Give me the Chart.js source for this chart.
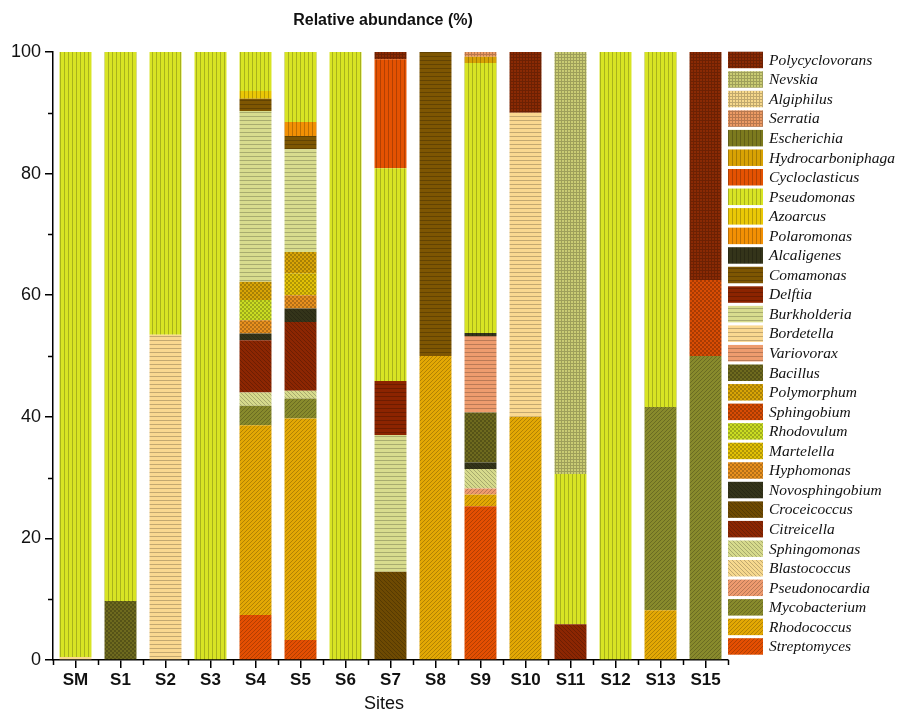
<!DOCTYPE html>
<html>
<head>
<meta charset="utf-8">
<script src="https://cdn.jsdelivr.net/npm/chart.js@4.4.1/dist/chart.umd.min.js"></script>
<style>
  html, body { margin: 0; padding: 0; background: #ffffff; }
  canvas { display: block; }
</style>
</head>
<body>
<canvas id="chart" width="898" height="714"></canvas>
<script>
// Sampling sites along the x axis
const sites = ['SM', 'S1', 'S2', 'S3', 'S4', 'S5', 'S6', 'S7', 'S8', 'S9', 'S10', 'S11', 'S12', 'S13', 'S15'];
const yTickValues = [0, 20, 40, 60, 80, 100];

// Relative abundance (%) of each genus at each site (same order as `sites`)
const streptomyces      = [0, 0, 0, 0, 7.4, 3.3, 0, 0, 0, 25.3, 0, 0, 0, 0, 0];
const rhodococcus       = [0, 0, 0, 0, 31.2, 36.4, 0, 0, 50, 1.9, 40, 0, 0, 8.2, 0];
const mycobacterium     = [0, 0, 0, 0, 3.2, 3.3, 0, 0, 0, 0, 0, 0, 0, 33.4, 50];
const pseudonocardia    = [0, 0, 0, 0, 0, 0, 0, 0, 0, 1.0, 0, 0, 0, 0, 0];
const blastococcus      = [0, 0, 0, 0, 0, 0, 0, 0, 0, 0, 0, 0, 0, 0, 0];
const sphingomonas      = [0, 0, 0, 0, 2.2, 1.3, 0, 0, 0, 3.2, 0, 0, 0, 0, 0];
const citreicella       = [0, 0, 0, 0, 8.6, 11.3, 0, 0, 0, 0, 0, 5.9, 0, 0, 0];
const croceicoccus      = [0, 0, 0, 0, 0, 0, 0, 14.5, 0, 0, 0, 0, 0, 0, 0];
const novosphingobium   = [0, 0, 0, 0, 1.1, 2.2, 0, 0, 0, 1.1, 0, 0, 0, 0, 0];
const hyphomonas        = [0, 0, 0, 0, 2.2, 2.2, 0, 0, 0, 0, 0, 0, 0, 0, 0];
const martelella        = [0, 0, 0, 0, 0, 3.6, 0, 0, 0, 0, 0, 0, 0, 0, 0];
const rhodovulum        = [0, 0, 0, 0, 3.3, 0, 0, 0, 0, 0, 0, 0, 0, 0, 0];
const sphingobium       = [0, 0, 0, 0, 0, 0, 0, 0, 0, 0, 0, 0, 0, 0, 12.5];
const polymorphum       = [0, 0, 0, 0, 3.0, 3.5, 0, 0, 0, 0, 0, 0, 0, 0, 0];
const bacillus          = [0, 9.7, 0, 0, 0, 0, 0, 0, 0, 8.2, 0, 0, 0, 0, 0];
const variovorax        = [0, 0, 0, 0, 0, 0, 0, 0, 0, 12.6, 0, 0, 0, 0, 0];
const bordetella        = [0.5, 0, 53.5, 0, 0, 0, 0, 0, 0, 0, 50, 0, 0, 0, 0];
const burkholderia      = [0, 0, 0, 0, 28.1, 16.9, 0, 22.5, 0, 0, 0, 0, 0, 0, 0];
const delftia           = [0, 0, 0, 0, 0, 0, 0, 8.9, 0, 0, 0, 0, 0, 0, 0];
const comamonas         = [0, 0, 0, 0, 2.0, 2.2, 0, 0, 50, 0, 0, 0, 0, 0, 0];
const alcaligenes       = [0, 0, 0, 0, 0, 0, 0, 0, 0, 0.5, 0, 0, 0, 0, 0];
const polaromonas       = [0, 0, 0, 0, 0, 2.3, 0, 0, 0, 0, 0, 0, 0, 0, 0];
const azoarcus          = [0, 0, 0, 0, 1.3, 0, 0, 0, 0, 0, 0, 0, 0, 0, 0];
const pseudomonas       = [99.5, 90.3, 46.5, 100, 6.4, 11.5, 100, 35.0, 0, 44.4, 0, 24.7, 100, 58.4, 0];
const cycloclasticus    = [0, 0, 0, 0, 0, 0, 0, 17.9, 0, 0, 0, 0, 0, 0, 0];
const hydrocarboniphaga = [0, 0, 0, 0, 0, 0, 0, 0, 0, 1.0, 0, 0, 0, 0, 0];
const escherichia       = [0, 0, 0, 0, 0, 0, 0, 0, 0, 0, 0, 0, 0, 0, 0];
const serratia          = [0, 0, 0, 0, 0, 0, 0, 0, 0, 0.8, 0, 0, 0, 0, 0];
const algiphilus        = [0, 0, 0, 0, 0, 0, 0, 0, 0, 0, 0, 0, 0, 0, 0];
const nevskia           = [0, 0, 0, 0, 0, 0, 0, 0, 0, 0, 0, 69.4, 0, 0, 0];
const polycyclovorans   = [0, 0, 0, 0, 0, 0, 0, 1.2, 0, 0, 10, 0, 0, 0, 37.5];

// Stacking order, bottom to top
const genusNames = ['Streptomyces', 'Rhodococcus', 'Mycobacterium', 'Pseudonocardia', 'Blastococcus',
  'Sphingomonas', 'Citreicella', 'Croceicoccus', 'Novosphingobium', 'Hyphomonas', 'Martelella',
  'Rhodovulum', 'Sphingobium', 'Polymorphum', 'Bacillus', 'Variovorax', 'Bordetella', 'Burkholderia',
  'Delftia', 'Comamonas', 'Alcaligenes', 'Polaromonas', 'Azoarcus', 'Pseudomonas', 'Cycloclasticus',
  'Hydrocarboniphaga', 'Escherichia', 'Serratia', 'Algiphilus', 'Nevskia', 'Polycyclovorans'];
const genusValues = [streptomyces, rhodococcus, mycobacterium, pseudonocardia, blastococcus,
  sphingomonas, citreicella, croceicoccus, novosphingobium, hyphomonas, martelella,
  rhodovulum, sphingobium, polymorphum, bacillus, variovorax, bordetella, burkholderia,
  delftia, comamonas, alcaligenes, polaromonas, azoarcus, pseudomonas, cycloclasticus,
  hydrocarboniphaga, escherichia, serratia, algiphilus, nevskia, polycyclovorans];

// Fill style per genus: [hatch type, base colour]
const genusStyle = {
  Streptomyces:      ['diagR', '#e44f02'],
  Rhodococcus:       ['diagR', '#e3a804'],
  Mycobacterium:     ['diagR', '#888a2c'],
  Pseudonocardia:    ['diagR', '#ee9a6e'],
  Blastococcus:      ['diagL', '#f6d88e'],
  Sphingomonas:      ['diagL', '#d6da8c'],
  Citreicella:       ['diagL', '#8c2602'],
  Croceicoccus:      ['diagL', '#6e4a02'],
  Novosphingobium:   ['diagL', '#34341a'],
  Hyphomonas:        ['check', '#e8901e'],
  Martelella:        ['check', '#e2c006'],
  Rhodovulum:        ['check', '#cadc22'],
  Sphingobium:       ['check', '#d84c04'],
  Polymorphum:       ['check', '#d8a406'],
  Bacillus:          ['check', '#6e6a1e'],
  Variovorax:        ['horiz', '#ee9c6e'],
  Bordetella:        ['horiz', '#fad890'],
  Burkholderia:      ['horiz', '#d8dc8e'],
  Delftia:           ['horiz', '#8c2400'],
  Comamonas:         ['horiz', '#7e5602'],
  Alcaligenes:       ['vert',  '#34341a'],
  Polaromonas:       ['vert',  '#f29004'],
  Azoarcus:          ['vert',  '#eac806'],
  Pseudomonas:       ['vert',  '#d8e424'],
  Cycloclasticus:    ['vert',  '#e45202'],
  Hydrocarboniphaga: ['vert',  '#d8a204'],
  Escherichia:       ['vert',  '#7c7a1e'],
  Serratia:          ['grid',  '#ec9a64'],
  Algiphilus:        ['grid',  '#f6d88c'],
  Nevskia:           ['grid',  '#cacc74'],
  Polycyclovorans:   ['grid',  '#8a2a04']
};

function shade(hex, f) {
  const n = parseInt(hex.slice(1), 16);
  const r = Math.round(((n >> 16) & 255) * f);
  const g = Math.round(((n >> 8) & 255) * f);
  const b = Math.round((n & 255) * f);
  return `rgb(${r},${g},${b})`;
}

// Build a repeating hatch fill for a bar segment
function makeHatch(type, base) {
  const size = type === 'grid' ? 3 : 4;
  const tile = document.createElement('canvas');
  tile.width = size; tile.height = size;
  const t = tile.getContext('2d');
  t.fillStyle = base;
  t.fillRect(0, 0, size, size);
  t.fillStyle = shade(base, 0.78);
  for (let x = 0; x < size; x++) {
    for (let y = 0; y < size; y++) {
      let on = false;
      if (type === 'vert') on = x === 0;
      else if (type === 'horiz') on = y === 0;
      else if (type === 'grid') on = x === 0 || y === 0;
      else if (type === 'check') on = ((x >> 1) + (y >> 1)) % 2 === 0;
      else if (type === 'diagR') on = (x + y) % size === 0;
      else if (type === 'diagL') on = (x - y + size) % size === 0;
      if (on) t.fillRect(x, y, 1, 1);
    }
  }
  const ctx = document.getElementById('chart').getContext('2d');
  return ctx.createPattern(tile, 'repeat');
}

const datasets = genusNames.map((name, i) => {
  const [type, base] = genusStyle[name];
  return {
    label: name,
    data: genusValues[i],
    backgroundColor: makeHatch(type, base),
    borderWidth: 0,
    categoryPercentage: 1.0,
    barPercentage: 0.71
  };
});

const SANS = "'Liberation Sans', Arial, sans-serif";
const SERIF = "'Liberation Serif', 'Times New Roman', serif";

// Titles, minor ticks and the genus key
const decorations = {
  id: 'decorations',
  afterDraw(chart) {
    const { ctx, chartArea, scales } = chart;
    const xs = scales.x, ys = scales.y;
    ctx.save();

    // minor ticks
    ctx.strokeStyle = '#000';
    ctx.lineWidth = 1.5;
    ctx.beginPath();
    for (let v = 10; v < 100; v += 20) {
      const y = Math.round(ys.getPixelForValue(v)) + 0.5;
      ctx.moveTo(chartArea.left - 5, y);
      ctx.lineTo(chartArea.left, y);
    }
    const step = xs.getPixelForValue(1) - xs.getPixelForValue(0);
    for (let i = 0; i <= sites.length; i++) {
      const x = Math.round(xs.getPixelForValue(0) + (i - 0.5) * step) + 0.5;
      ctx.moveTo(x, chartArea.bottom);
      ctx.lineTo(x, chartArea.bottom + 5);
    }
    ctx.stroke();

    // chart title
    ctx.fillStyle = '#111';
    ctx.textAlign = 'center';
    ctx.textBaseline = 'middle';
    ctx.font = `bold 16px ${SANS}`;
    ctx.fillText('Relative abundance (%)', 383, 21);

    // x axis title
    ctx.font = `18px ${SANS}`;
    ctx.fillText('Sites', 384, 704);

    // genus key, top entry is the last stacked genus
    ctx.textAlign = 'left';
    ctx.font = `italic 15.5px ${SERIF}`;
    const items = chart.data.datasets.slice().reverse();
    items.forEach((ds, i) => {
      const top = 51.7 + i * 19.55;
      ctx.fillStyle = ds.backgroundColor;
      ctx.fillRect(728, top, 35, 16.5);
      ctx.fillStyle = '#111';
      ctx.fillText(ds.label, 769, top + 9);
    });
    ctx.restore();
  }
};

new Chart(document.getElementById('chart'), {
  type: 'bar',
  data: { labels: sites, datasets },
  options: {
    responsive: false,
    animation: false,
    devicePixelRatio: 1,
    layout: { padding: { top: 52, right: 170, left: 0, bottom: 0 } },
    plugins: { legend: { display: false }, tooltip: { enabled: false }, title: { display: false } },
    scales: {
      x: {
        stacked: true,
        offset: true,
        grid: { display: true, offset: false, drawOnChartArea: false, drawTicks: true, tickLength: 8, color: '#000', lineWidth: 1.5 },
        border: { display: true, color: '#000', width: 1.5 },
        ticks: { font: { family: SANS, size: 17, weight: 'bold' }, color: '#111', padding: 2, maxRotation: 0, autoSkip: false },
        afterFit(scale) { scale.height = 54; }
      },
      y: {
        stacked: true,
        min: 0,
        max: 100,
        afterBuildTicks(scale) { scale.ticks = yTickValues.map(v => ({ value: v })); },
        grid: { display: true, drawOnChartArea: false, drawTicks: true, tickLength: 8, color: '#000', lineWidth: 1.5 },
        border: { display: true, color: '#000', width: 1.5 },
        ticks: { font: { family: SANS, size: 18 }, color: '#111', padding: 4 },
        afterFit(scale) { scale.width = 53; }
      }
    }
  },
  plugins: [decorations]
});
</script>
</body>
</html>
